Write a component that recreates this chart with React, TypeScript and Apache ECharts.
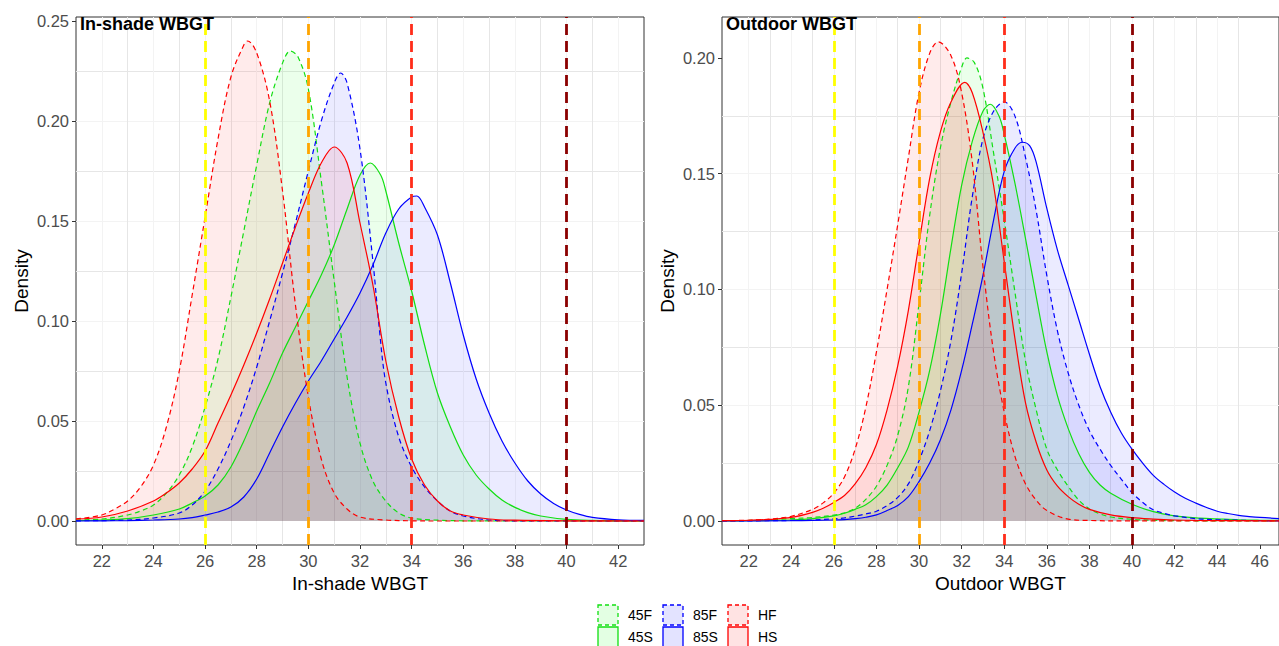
import React, { useEffect, useRef } from "react";
import * as echarts from "echarts";

const FONT = "'Liberation Sans', Arial, Helvetica, sans-serif";

// ---- series meta ----
const seriesNames = ["45F", "45S", "85F", "85S", "HF", "HS"];
const seriesColors = ["#12df12", "#12df12", "#0000ff", "#0000ff", "#ff0000", "#ff0000"];
const seriesFills = [
  "rgba(0,255,0,0.11)",
  "rgba(0,255,0,0.11)",
  "rgba(0,0,255,0.11)",
  "rgba(0,0,255,0.11)",
  "rgba(255,0,0,0.11)",
  "rgba(255,0,0,0.11)",
];
const seriesDashed = [true, false, true, false, true, false];

// ---- threshold lines ----
const thresholds = [26, 30, 34, 40];
const thresholdColors = ["#ffff00", "#ffa500", "#ff2d1a", "#8b0000"];

// ---- tick labels ----
const shadeXTicks = [22, 24, 26, 28, 30, 32, 34, 36, 38, 40, 42];
const outdoorXTicks = [22, 24, 26, 28, 30, 32, 34, 36, 38, 40, 42, 44, 46];
const shadeYTicks = [0, 0.05, 0.1, 0.15, 0.2, 0.25];
const outdoorYTicks = [0, 0.05, 0.1, 0.15, 0.2];

// ---- In-shade WBGT densities [x, density] ----
const shade45F = [[21,0.0005],[22,0.001],[23,0.003],[23.5,0.005],[24,0.008],[24.5,0.014],[25,0.023],[25.5,0.037],[26,0.057],[26.5,0.081],[27,0.112],[27.5,0.145],[28,0.178],[28.5,0.209],[29,0.229],[29.3,0.235],[29.6,0.232],[30,0.216],[30.5,0.17],[31,0.12],[31.5,0.072],[32,0.039],[32.5,0.02],[33,0.01],[33.5,0.004],[34,0.0015],[35,0.0004],[36,0.0001],[38,0],[43,0]];
const shade45S = [[21,0.0002],[22,0.0005],[23,0.0012],[24,0.003],[25,0.006],[25.5,0.009],[26,0.0125],[26.5,0.018],[27,0.027],[27.5,0.04],[28,0.055],[28.5,0.069],[29,0.084],[29.5,0.097],[30,0.11],[30.5,0.123],[31,0.138],[31.5,0.156],[32,0.173],[32.4,0.179],[32.8,0.173],[33,0.165],[33.5,0.139],[34,0.115],[34.5,0.088],[35,0.064],[35.5,0.047],[36,0.033],[36.5,0.023],[37,0.016],[37.5,0.0105],[38,0.0068],[38.5,0.0042],[39,0.0025],[40,0.0008],[41,0.0003],[43,0]];
const shade85F = [[21,0.0001],[22,0.0002],[23,0.0005],[24,0.0015],[25,0.004],[25.5,0.008],[26,0.015],[26.5,0.026],[27,0.04],[27.5,0.057],[28,0.077],[28.5,0.1],[29,0.124],[29.5,0.149],[30,0.175],[30.5,0.2],[31,0.219],[31.25,0.224],[31.5,0.219],[32,0.186],[32.5,0.13],[32.75,0.096],[33,0.069],[33.5,0.042],[34,0.027],[34.5,0.017],[35,0.01],[35.5,0.005],[36,0.0025],[37,0.0005],[38,0.0001],[43,0]];
const shade85S = [[21,0],[22,0.0001],[23,0.0002],[24,0.0005],[25,0.001],[25.5,0.0017],[26,0.003],[26.5,0.0045],[27,0.007],[27.5,0.012],[28,0.021],[28.5,0.034],[29,0.047],[29.5,0.059],[30,0.07],[30.5,0.08],[31,0.091],[31.5,0.102],[32,0.114],[32.5,0.128],[33,0.144],[33.5,0.156],[34,0.162],[34.2,0.1625],[34.5,0.157],[35,0.143],[35.5,0.119],[36,0.093],[36.5,0.071],[37,0.054],[37.5,0.04],[38,0.029],[38.5,0.02],[39,0.0135],[39.5,0.0088],[40,0.0055],[40.5,0.0033],[41,0.0018],[42,0.0006],[43,0.0003]];
const shadeHF = [[21,0.001],[22,0.003],[22.5,0.006],[23,0.01],[23.5,0.017],[24,0.028],[24.5,0.047],[25,0.075],[25.5,0.113],[26,0.152],[26.5,0.191],[27,0.222],[27.5,0.238],[27.65,0.24],[28,0.234],[28.5,0.21],[29,0.165],[29.5,0.108],[30,0.062],[30.5,0.031],[31,0.014],[31.5,0.006],[32,0.002],[33,0.0005],[34,0.0001],[35,0],[43,0]];
const shadeHS = [[21,0.001],[22,0.002],[23,0.005],[24,0.01],[24.5,0.014],[25,0.019],[25.5,0.026],[26,0.035],[26.5,0.049],[27,0.063],[27.5,0.078],[28,0.094],[28.5,0.111],[29,0.129],[29.5,0.147],[30,0.164],[30.5,0.179],[31,0.187],[31.5,0.179],[32,0.149],[32.5,0.118],[33,0.08],[33.5,0.052],[34,0.031],[34.5,0.018],[35,0.01],[35.5,0.005],[36,0.003],[37,0.001],[38,0.0004],[40,0.0001],[43,0]];

// ---- Outdoor WBGT densities [x, density] ----
const out45F = [[20.75,0.0001],[22,0.0002],[23,0.0005],[24,0.001],[25,0.0015],[26,0.0025],[26.5,0.0035],[27,0.0055],[27.5,0.0093],[28,0.015],[28.5,0.024],[29,0.037],[29.5,0.058],[30,0.094],[30.5,0.132],[31,0.161],[31.5,0.181],[32,0.196],[32.25,0.2],[32.6,0.198],[33,0.187],[33.5,0.159],[34,0.13],[34.5,0.099],[35,0.069],[35.5,0.048],[36,0.031],[36.5,0.022],[37,0.015],[37.5,0.009],[38,0.0052],[38.5,0.003],[39,0.0017],[40,0.0007],[41,0.0003],[42,0.0001],[46.9,0]];
const out45S = [[20.75,0],[22,0.0001],[23,0.0002],[24,0.0004],[25,0.001],[26,0.0022],[26.5,0.0033],[27,0.005],[27.5,0.007],[28,0.0105],[28.5,0.0155],[29,0.023],[29.5,0.032],[30,0.047],[30.5,0.065],[31,0.089],[31.5,0.118],[32,0.145],[32.5,0.164],[33,0.177],[33.35,0.18],[33.75,0.175],[34,0.167],[34.5,0.146],[35,0.122],[35.5,0.097],[36,0.073],[36.5,0.054],[37,0.04],[37.5,0.029],[38,0.021],[38.5,0.0155],[39,0.012],[40,0.0072],[41,0.004],[42,0.0022],[43,0.0013],[44,0.0009],[45,0.0005],[46,0.0003],[46.9,0.0002]];
const out85F = [[20.75,0],[23,0.0001],[24,0.0002],[25,0.0004],[26,0.0009],[26.5,0.0013],[27,0.0021],[27.5,0.003],[28,0.0042],[28.5,0.0066],[29,0.0102],[29.5,0.016],[30,0.026],[30.5,0.039],[31,0.056],[31.5,0.078],[32,0.107],[32.5,0.14],[33,0.165],[33.5,0.177],[34,0.181],[34.5,0.175],[35,0.157],[35.5,0.134],[36,0.106],[36.5,0.082],[37,0.064],[37.5,0.05],[38,0.039],[38.5,0.031],[39,0.024],[39.5,0.018],[40,0.0122],[40.5,0.008],[41,0.0048],[41.5,0.0033],[42,0.0022],[43,0.001],[44,0.0005],[45,0.0003],[46,0.0001],[46.9,0]];
const out85S = [[20.75,0],[24,0.0001],[25,0.0002],[26,0.0004],[26.5,0.0006],[27,0.001],[27.5,0.0016],[28,0.0026],[28.5,0.0045],[29,0.0067],[29.5,0.0105],[30,0.017],[30.5,0.025],[31,0.035],[31.5,0.048],[32,0.065],[32.5,0.085],[33,0.106],[33.5,0.13],[34,0.151],[34.5,0.161],[34.85,0.1636],[35.2,0.162],[35.5,0.155],[36,0.135],[36.5,0.117],[37,0.102],[37.5,0.087],[38,0.072],[38.5,0.058],[39,0.047],[39.5,0.038],[40,0.031],[40.5,0.025],[41,0.0197],[41.5,0.0158],[42,0.0125],[42.5,0.0098],[43,0.0077],[43.5,0.0058],[44,0.0042],[44.5,0.0032],[45,0.0024],[45.5,0.0019],[46,0.0015],[46.9,0.001]];
const outHF = [[20.75,0.0001],[22,0.0003],[23,0.0008],[24,0.002],[25,0.005],[25.5,0.0078],[26,0.012],[26.5,0.019],[27,0.031],[27.5,0.049],[28,0.073],[28.5,0.1],[29,0.128],[29.5,0.157],[30,0.185],[30.5,0.202],[30.9,0.207],[31.5,0.201],[32,0.185],[32.5,0.155],[33,0.11],[33.5,0.073],[34,0.047],[34.5,0.028],[35,0.016],[35.5,0.009],[36,0.0045],[37,0.0008],[38,0.0002],[40,0],[46.9,0]];
const outHS = [[20.75,0.0001],[22,0.0003],[23,0.0007],[24,0.0015],[25,0.0037],[25.5,0.0055],[26,0.008],[26.5,0.011],[27,0.016],[27.5,0.023],[28,0.033],[28.5,0.048],[29,0.067],[29.5,0.091],[30,0.12],[30.5,0.148],[31,0.168],[31.5,0.181],[32.15,0.1895],[32.5,0.185],[33,0.168],[33.5,0.145],[34,0.112],[34.5,0.079],[35,0.051],[35.5,0.034],[36,0.022],[36.5,0.015],[37,0.0105],[37.5,0.0072],[38,0.005],[39,0.0026],[40,0.0014],[41,0.0008],[42,0.0004],[43,0.0002],[46.9,0]];

const shadeData = [shade45F, shade45S, shade85F, shade85S, shadeHF, shadeHS];
const outdoorData = [out45F, out45S, out85F, out85S, outHF, outHS];

// ---- panel extents ----
const shadeXRange = [21, 43];
const outdoorXRange = [20.75, 46.9];
const shadeYRange = [-0.012, 0.252];
const outdoorYRange = [-0.0104, 0.2177];

const MAJOR = "#e6e6e6";
const MINOR = "#f3f3f3";

function intsBetween(a: number, b: number) {
  const out: number[] = [];
  for (let v = Math.ceil(a); v <= Math.floor(b); v++) out.push(v);
  return out;
}
function stepsBetween(a: number, b: number, step: number) {
  const out: number[] = [];
  for (let k = Math.ceil(a / step - 1e-9); k * step <= b + 1e-9; k++) out.push(Math.round(k * step * 1000) / 1000);
  return out;
}

export default function App() {
  const ref = useRef<HTMLDivElement>(null);

  useEffect(() => {
    if (!ref.current) return;
    const chart = echarts.init(ref.current, undefined, { renderer: "svg" });

    const panels = [
      { left: 76, width: 568, xr: shadeXRange, yr: shadeYRange, xt: shadeXTicks, yt: shadeYTicks, data: shadeData, name: "In-shade WBGT", title: "In-shade WBGT" },
      { left: 722, width: 559, xr: outdoorXRange, yr: outdoorYRange, xt: outdoorXTicks, yt: outdoorYTicks, data: outdoorData, name: "Outdoor WBGT", title: "Outdoor WBGT" },
    ];

    const grids: any[] = [];
    const xAxes: any[] = [];
    const yAxes: any[] = [];
    const series: any[] = [];
    const titles: any[] = [];

    panels.forEach((p, pi) => {
      grids.push({
        left: p.left, top: 17, width: p.width, height: 528,
        show: true, borderColor: "#333333", borderWidth: 1, backgroundColor: "transparent",
      });
      const xGrid = intsBetween(p.xr[0], p.xr[1]);
      const yGrid = stepsBetween(0, p.yr[1], 0.025);
      // grid-line axes
      xAxes.push({
        gridIndex: pi, type: "value", min: p.xr[0], max: p.xr[1], position: "bottom",
        axisLine: { show: false, onZero: false },
        axisTick: { show: false, customValues: xGrid },
        axisLabel: { show: false },
        splitLine: { show: true, showMinLine: false, showMaxLine: false, lineStyle: { color: xGrid[0] % 2 === 0 ? [MAJOR, MINOR] : [MINOR, MAJOR], width: 1 } },
      });
      // label axes
      xAxes.push({
        gridIndex: pi, type: "value", min: p.xr[0], max: p.xr[1], position: "bottom",
        axisLine: { show: false, onZero: false },
        axisTick: { show: true, length: 4, customValues: p.xt, lineStyle: { color: "#333333", width: 1 } },
        axisLabel: { show: true, customValues: p.xt, color: "#4d4d4d", fontSize: 16.5, margin: 7, fontFamily: FONT },
        splitLine: { show: false },
        name: p.name, nameLocation: "middle", nameGap: 25,
        nameTextStyle: { color: "#000", fontSize: 19, fontFamily: FONT },
      });
      yAxes.push({
        gridIndex: pi, type: "value", min: p.yr[0], max: p.yr[1], position: "left",
        axisLine: { show: false, onZero: false },
        axisTick: { show: false, customValues: yGrid },
        axisLabel: { show: false },
        splitLine: { show: true, showMinLine: false, showMaxLine: false, lineStyle: { color: [MAJOR, MINOR], width: 1 } },
      });
      yAxes.push({
        gridIndex: pi, type: "value", min: p.yr[0], max: p.yr[1], position: "left",
        axisLine: { show: false, onZero: false },
        axisTick: { show: true, length: 4, customValues: p.yt, lineStyle: { color: "#333333", width: 1 } },
        axisLabel: { show: true, customValues: p.yt, color: "#4d4d4d", fontSize: 16.5, margin: 7, fontFamily: FONT, formatter: (v: number) => v.toFixed(2) },
        splitLine: { show: false },
        name: "Density", nameLocation: "middle", nameGap: 45,
        nameTextStyle: { color: "#000", fontSize: 19, fontFamily: FONT },
      });

      p.data.forEach((d, si) => {
        series.push({
          type: "line",
          name: seriesNames[si],
          xAxisIndex: pi * 2,
          yAxisIndex: pi * 2,
          data: d,
          smooth: 0.35,
          symbol: "none",
          showSymbol: false,
          silent: true,
          z: 2,
          lineStyle: { color: seriesColors[si], width: 1.2, type: seriesDashed[si] ? [5, 3.5] : "solid" },
          itemStyle: { color: seriesColors[si] },
          areaStyle: { color: seriesFills[si], origin: "auto" },
        });
      });

      series.push({
        type: "line",
        name: "thresholds-" + pi,
        xAxisIndex: pi * 2,
        yAxisIndex: pi * 2,
        data: [],
        z: 5,
        silent: true,
        markLine: {
          silent: true,
          symbol: ["none", "none"],
          label: { show: false },
          animation: false,
          data: thresholds.map((t, ti) => ({
            xAxis: t,
            lineStyle: { color: thresholdColors[ti], width: 2.8, type: [11, 6] },
          })),
        },
      });

      titles.push({
        text: p.title, left: p.left + 4, top: 15, padding: 0,
        textStyle: { fontSize: 18, fontWeight: "bold", color: "#000", fontFamily: FONT },
      });
    });

    // legend drawn as boxes + labels
    const legendEls: any[] = [];
    seriesNames.forEach((nm, i) => {
      const col = Math.floor(i / 2);
      const row = i % 2;
      const bx = 598 + col * 65;
      const by = 605 + row * 22;
      legendEls.push({
        type: "rect",
        shape: { x: bx, y: by, width: 20, height: 20 },
        style: {
          fill: seriesFills[i],
          stroke: seriesColors[i],
          lineWidth: 1.3,
          lineDash: seriesDashed[i] ? [4, 3] : null,
        },
        silent: true,
      });
      legendEls.push({
        type: "text",
        x: bx + 30,
        y: by + 10,
        style: { text: nm, fontSize: 14, fontFamily: FONT, fill: "#000", verticalAlign: "middle", align: "left" },
        silent: true,
      });
    });

    chart.setOption({
      animation: false,
      backgroundColor: "#ffffff",
      title: titles,
      grid: grids,
      xAxis: xAxes,
      yAxis: yAxes,
      series,
      graphic: legendEls,
    });

    return () => chart.dispose();
  }, []);

  return <div ref={ref} style={{ position: "fixed", left: 0, top: 0, width: 1279, height: 646 }} />;
}
